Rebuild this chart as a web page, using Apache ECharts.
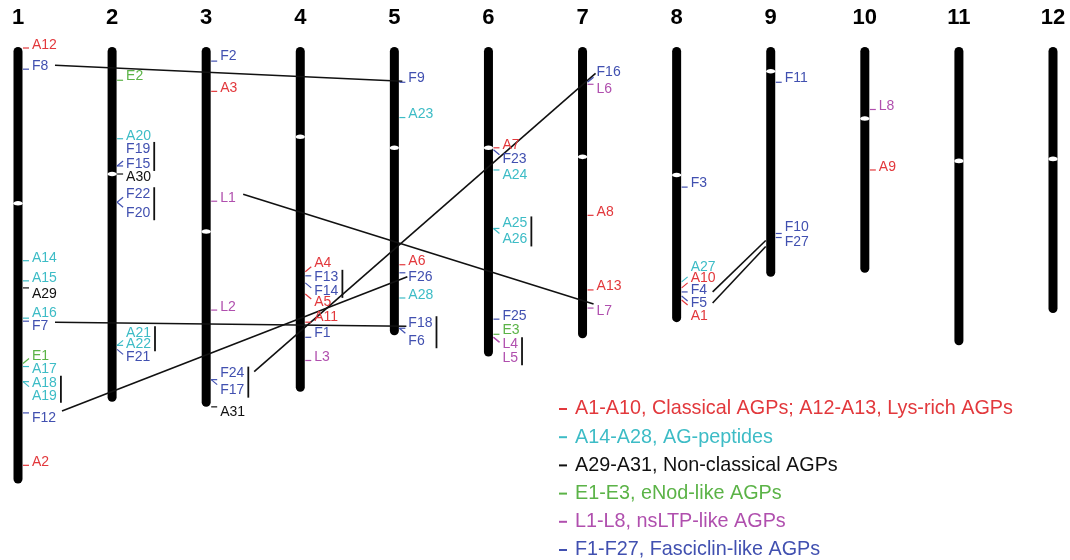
<!DOCTYPE html>
<html>
<head>
<meta charset="utf-8">
<script src="https://cdn.jsdelivr.net/npm/echarts@6/dist/echarts.min.js"></script>
<style>
  html, body { margin: 0; background: #fff; }
  #chart { width: 1070px; height: 560px; }
</style>
</head>
<body>
<div id="chart"></div>
<script>
// chromosome length and centromere position, in Mb
const chromosomes = [1, 2, 3, 4, 5, 6, 7, 8, 9, 10, 11, 12];
const chromLength = [43.3, 35.2, 35.7, 34.2, 28.6, 30.7, 28.9, 27.3, 22.8, 22.4, 29.6, 26.4];
const centromere = [15.5, 12.6, 18.3, 8.9, 10.0, 10.0, 10.9, 12.7, 2.4, 7.1, 11.3, 11.1];

// genes: [name, chromosome, position in Mb]
const classicalGenes = [
  ['A12', 1, 0.1], ['A2', 1, 41.5], ['A3', 3, 4.4], ['A4', 4, 22.3], ['A5', 4, 24.5],
  ['A11', 4, 27.3], ['A6', 5, 21.6], ['A7', 6, 10.0], ['A8', 7, 16.7], ['A13', 7, 24.1],
  ['A10', 8, 23.9], ['A1', 8, 25.1], ['A9', 10, 12.2]
];
const agPeptideGenes = [
  ['A14', 1, 21.2], ['A15', 1, 23.2], ['A16', 1, 26.9], ['A17', 1, 31.7], ['A18', 1, 33.2],
  ['A19', 1, 33.2], ['A20', 2, 9.1], ['A21', 2, 29.6], ['A22', 2, 29.6], ['A23', 5, 7.0],
  ['A28', 5, 24.9], ['A24', 6, 12.2], ['A25', 6, 18.0], ['A26', 6, 18.0], ['A27', 8, 23.3]
];
const nonClassicalGenes = [['A29', 1, 23.9], ['A30', 2, 12.6], ['A31', 3, 35.7]];
const eNodGenes = [['E1', 1, 31.4], ['E2', 2, 3.3], ['E3', 6, 28.5]];
const nsLtpGenes = [
  ['L1', 3, 15.3], ['L2', 3, 26.1], ['L3', 4, 31.1], ['L4', 6, 28.8], ['L5', 6, 28.8],
  ['L6', 7, 3.7], ['L7', 7, 25.9], ['L8', 10, 6.2]
];
const fasciclinGenes = [
  ['F8', 1, 2.2], ['F7', 1, 27.2], ['F12', 1, 36.3], ['F19', 2, 11.8], ['F15', 2, 11.8],
  ['F22', 2, 15.4], ['F20', 2, 15.4], ['F21', 2, 30.0], ['F2', 3, 1.4], ['F24', 3, 33.0],
  ['F17', 3, 33.0], ['F13', 4, 22.7], ['F14', 4, 23.4], ['F1', 4, 28.8], ['F9', 5, 3.5],
  ['F26', 5, 22.4], ['F18', 5, 27.9], ['F6', 5, 27.9], ['F23', 6, 10.2], ['F25', 6, 27.0],
  ['F16', 7, 3.5], ['F3', 8, 13.9], ['F4', 8, 24.3], ['F5', 8, 24.7], ['F11', 9, 3.5],
  ['F10', 9, 18.5], ['F27', 9, 18.9]
];

// segmental duplications and tandem clusters
const duplications = [
  ['F8', 'F9'], ['F12', 'F26'], ['F7', 'F18'], ['L1', 'L7'], ['F17', 'F16'], ['F4', 'F10'], ['F5', 'F27']
];
const tandemPairs = [
  ['A18', 'A19'], ['F19', 'F15'], ['F22', 'F20'], ['A21', 'A22'], ['F24', 'F17'],
  ['F13', 'F14'], ['F18', 'F6'], ['A25', 'A26'], ['L4', 'L5']
];

const families = [
  { name: 'A1-A10, Classical AGPs; A12-A13, Lys-rich AGPs', color: '#e2383c', genes: classicalGenes },
  { name: 'A14-A28, AG-peptides', color: '#3dbcc6', genes: agPeptideGenes },
  { name: 'A29-A31, Non-classical AGPs', color: '#111111', genes: nonClassicalGenes },
  { name: 'E1-E3, eNod-like AGPs', color: '#5bb347', genes: eNodGenes },
  { name: 'L1-L8, nsLTP-like AGPs', color: '#b04fae', genes: nsLtpGenes },
  { name: 'F1-F27, Fasciclin-like AGPs', color: '#4150b0', genes: fasciclinGenes }
];

// label nudges (px) so crowded names stay readable
const labelDy = {
  A12: -3, F8: -3, A14: -3, A15: -3, A29: 6, A16: -5, F7: 5, E1: -7, A17: 3, A18: 1, A19: 14, F12: 5, A2: -3,
  E2: -4, A20: -3, F19: -17, F15: -2, A30: 3, F22: -8, F20: 11, A21: -12, A22: -1, F21: 8,
  F2: -5, A3: -3, L1: -3, L2: -3, F24: -6, F17: 11, A31: 5,
  A4: -9, F13: 1, F14: 8, A5: 8, A11: -5, F1: -4, L3: -3,
  F9: -4, A23: -3, A6: -4, F26: 4, A28: -3, F18: -5, F6: 13,
  A7: -3, F23: 9, A24: 5, A25: -5, A26: 11, F25: -3, E3: -4, L4: 7, L5: 21,
  F16: -10, L6: 5, A8: -3, A13: -4, L7: 3,
  F3: -4, A27: -15, A10: -10, F4: -2, F5: 7, A1: 16,
  F11: -4, F10: -6, F27: 5, L8: -3, A9: -3
};
// where each duplication line leaves / meets its genes (px)
const linkNudge = [
  [37, -4, 8, -1], [44, -2, 13, 4], [37, 1, 12, -2], [37, -7, 11, -4],
  [48, -8, 13, -9], [36, 0, -5, 7], [36, 7, -5, 9]
];

const FONT = '"Liberation Sans", Arial, sans-serif';
const LABEL_FONT = '14px ' + FONT;
const geneByName = {};
families.forEach(f => f.genes.forEach(g => { geneByName[g[0]] = g; }));

const measureCtx = document.createElement('canvas').getContext('2d');
measureCtx.font = LABEL_FONT;
const textWidth = s => measureCtx.measureText(s).width;

const chart = echarts.init(document.getElementById('chart'));

const chromSeries = {
  type: 'custom',
  silent: true,
  z: 1,
  data: chromosomes.map((c, i) => [c, chromLength[i], centromere[i]]),
  renderItem: (params, api) => {
    const top = api.coord([api.value(0), 0]);
    const bot = api.coord([api.value(0), api.value(1)]);
    const cen = api.coord([api.value(0), api.value(2)]);
    return {
      type: 'group',
      children: [
        { type: 'rect', shape: { x: top[0] - 4.5, y: top[1], width: 9, height: bot[1] - top[1], r: 4.5 },
          style: { fill: '#000' } },
        { type: 'ellipse', shape: { cx: cen[0], cy: cen[1], rx: 4.6, ry: 2.3 }, style: { fill: '#fff' } }
      ]
    };
  }
};

const linkSeries = {
  type: 'custom',
  silent: true,
  z: 2,
  data: duplications.map(d => [geneByName[d[0]][1], geneByName[d[0]][2], geneByName[d[1]][1], geneByName[d[1]][2]]),
  renderItem: (params, api) => {
    const a = api.coord([api.value(0), api.value(1)]);
    const b = api.coord([api.value(2), api.value(3)]);
    const n = linkNudge[params.dataIndex];
    return {
      type: 'line',
      shape: { x1: a[0] + n[0], y1: a[1] + n[1], x2: b[0] + n[2], y2: b[1] + n[3] },
      style: { stroke: '#111', lineWidth: 1.6 }
    };
  }
};

const bracketSeries = {
  type: 'custom',
  silent: true,
  z: 3,
  data: tandemPairs.map(p => [geneByName[p[0]][1], geneByName[p[0]][2], geneByName[p[1]][2]]),
  renderItem: (params, api) => {
    const pair = tandemPairs[params.dataIndex];
    const a = api.coord([api.value(0), api.value(1)]);
    const b = api.coord([api.value(0), api.value(2)]);
    const y1 = a[1] + labelDy[pair[0]] - 7;
    const y2 = b[1] + labelDy[pair[1]] + 7;
    const x = a[0] + 14 + Math.max(textWidth(pair[0]), textWidth(pair[1])) + 4;
    return {
      type: 'line',
      shape: { x1: x, y1: y1, x2: x, y2: y2 },
      style: { stroke: '#111', lineWidth: 1.8 }
    };
  }
};

const familySeries = families.map(f => ({
  name: f.name,
  type: 'custom',
  z: 4,
  color: f.color,
  itemStyle: { color: f.color },
  data: f.genes.map(g => [g[1], g[2]]),
  renderItem: (params, api) => {
    const name = f.genes[params.dataIndex][0];
    const p = api.coord([api.value(0), api.value(1)]);
    const dy = labelDy[name] || 0;
    const tickDy = Math.abs(dy) >= 7 ? Math.sign(dy) * 5 : 0;
    return {
      type: 'group',
      children: [
        { type: 'line', shape: { x1: p[0] + 5, y1: p[1], x2: p[0] + 11, y2: p[1] + tickDy },
          style: { stroke: f.color, lineWidth: 1.2 } },
        { type: 'text', style: { text: name, x: p[0] + 14, y: p[1] + dy, fill: f.color,
          font: LABEL_FONT, verticalAlign: 'middle', align: 'left' } }
      ]
    };
  }
}));

chart.setOption({
  animation: false,
  grid: { left: 18, right: 17, top: 47, height: 504 },
  xAxis: {
    type: 'value', position: 'top', min: 1, max: 12, interval: 1,
    axisLine: { show: false }, axisTick: { show: false }, splitLine: { show: false },
    axisLabel: { margin: 18, color: '#000', fontSize: 22, fontWeight: 'bold', fontFamily: FONT }
  },
  yAxis: {
    type: 'value', inverse: true, min: 0, max: 50, show: false
  },
  legend: {
    left: 559, top: 399, padding: 0, orient: 'vertical', icon: 'rect', itemWidth: 8, itemHeight: 2, itemGap: 8.2,
    selectedMode: false,
    data: families.map(f => ({ name: f.name, textStyle: { color: f.color } })),
    textStyle: { fontSize: 19.8, fontFamily: FONT, lineHeight: 20, padding: [0, 0, 0, 3] }
  },
  series: [chromSeries, linkSeries, bracketSeries].concat(familySeries)
});
</script>
</body>
</html>
